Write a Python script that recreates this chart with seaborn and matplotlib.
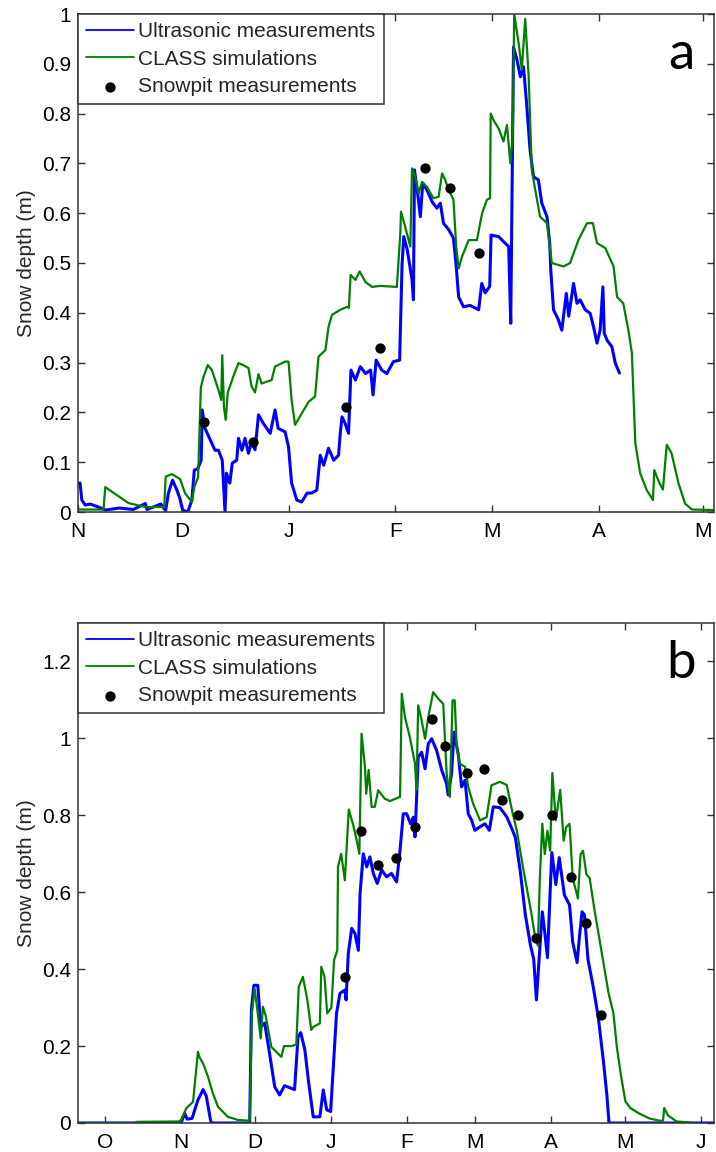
import numpy as np
import matplotlib
matplotlib.use('Agg')
import matplotlib.pyplot as plt
from matplotlib.ticker import FormatStrFormatter
import seaborn as sns

# ---- panel a : season starting 1 Nov (x = days since 1 Nov) ----
a_month_days = [0, 30, 61, 92, 120, 151, 181]
a_month_labels = ['N', 'D', 'J', 'F', 'M', 'A', 'M']

a_ultra_day = [0, 0.6, 1.1, 2.1, 3.5, 5.9, 8, 12, 16, 19.5, 20, 24, 25.4, 26.2, 27.4, 28.6,
               29.5, 30.3, 31.8, 33, 33.7, 34.7, 35.7, 36, 36.8, 38.3, 39.7, 40.7, 41.8, 42.6,
               43, 44, 44.7, 46, 46.5, 47.5, 48.4, 49.4, 50.3, 51.3, 52.3, 53.7, 55.7, 57.1,
               58, 60, 61, 61.9, 63.4, 64.8, 66.4, 67.7, 69.2, 70.2, 71.2, 72.6, 74.1, 75.5,
               76, 76.5, 77.4, 78.4, 79.1, 80.4, 81.8, 83.3, 84.8, 85.5, 86.4, 88, 89.5, 91.4,
               93.2, 93.9, 94.4, 95.4, 96.8, 97.2, 97.5, 98.3, 99.2, 99.9, 101.1, 102.6, 104,
               105, 105.9, 107.4, 108.8, 109.6, 110.3, 111.7, 113.6, 116.1, 117, 118, 119.3,
               119.7, 121.9, 123.3, 124.8, 125.4, 126.2, 127.2, 128.2, 129.1, 130, 131, 132,
               133.4, 134.4, 135.9, 136.7, 137, 137.8, 139.2, 140.2, 141.5, 142.2, 143.6,
               144.6, 145.5, 147, 148.4, 149.4, 150.4, 151.3, 152.1, 152.5, 153.3, 154.7,
               155.7, 156.9]
a_ultra_depth = [0.058, 0.058, 0.024, 0.014, 0.016, 0.01, 0.004, 0.008, 0.005, 0.017, 0.005,
                 0.016, 0.003, 0.038, 0.064, 0.045, 0.028, 0.004, 0.0, 0.024, 0.084, 0.087,
                 0.104, 0.205, 0.168, 0.145, 0.124, 0.124, 0.104, 0.0, 0.078, 0.058, 0.098,
                 0.104, 0.148, 0.124, 0.148, 0.118, 0.141, 0.125, 0.195, 0.178, 0.158, 0.205,
                 0.168, 0.161, 0.131, 0.058, 0.024, 0.02, 0.038, 0.038, 0.044, 0.114, 0.094,
                 0.128, 0.104, 0.114, 0.158, 0.191, 0.178, 0.158, 0.285, 0.265, 0.292, 0.278,
                 0.285, 0.235, 0.305, 0.285, 0.278, 0.302, 0.305, 0.496, 0.553, 0.527, 0.466,
                 0.426, 0.687, 0.647, 0.593, 0.66, 0.647, 0.623, 0.61, 0.62, 0.58, 0.567, 0.55,
                 0.493, 0.432, 0.412, 0.415, 0.406, 0.459, 0.44, 0.453, 0.556, 0.553, 0.543,
                 0.533, 0.379, 0.934, 0.908, 0.874, 0.894, 0.82, 0.727, 0.673, 0.667, 0.62,
                 0.593, 0.54, 0.486, 0.406, 0.386, 0.365, 0.439, 0.393, 0.459, 0.419, 0.426,
                 0.406, 0.399, 0.372, 0.339, 0.365, 0.452, 0.359, 0.345, 0.332, 0.299, 0.279]

a_class_day = [0, 7.4, 7.9, 10, 14.6, 19.5, 25, 25.4, 27.2, 29.6, 31, 33, 33.7, 34.8, 35.6,
               36.3, 37.6, 38.8, 40.7, 41.5, 41.8, 42.3, 42.8, 43.4, 45, 46.5, 47.9, 49.4,
               50.3, 51.3, 52.3, 53.2, 56.1, 57.1, 60, 61, 61.9, 62.9, 65, 66.8, 68.7, 69.7,
               71.7, 72.6, 73.6, 76, 78, 78.5, 79, 80.4, 81.6, 83.3, 85.2, 87.5, 92.4, 93.4,
               93.6, 94.8, 96.3, 96.8, 97.7, 98.7, 99.7, 101.1, 103, 104.5, 105.5, 106.4,
               107.4, 108.8, 109.6, 110.3, 111.3, 113.2, 115.6, 117.1, 118.5, 119.4, 119.6,
               120.4, 121.9, 123.3, 124.3, 125.3, 126, 126.4, 127.7, 128.6, 129.6, 130.6,
               131.5, 132.5, 133.9, 135.9, 137.3, 140.7, 142.6, 145, 147.5, 149.2, 150.4,
               152.8, 155.2, 156.2, 158, 159.5, 160.5, 161.5, 162.9, 164.8, 166.6, 167,
               168.5, 169.5, 170.6, 172, 174, 175.9, 177.9, 184.3]
a_class_depth = [0.005, 0.005, 0.05, 0.04, 0.018, 0.01, 0.01, 0.071, 0.076, 0.066, 0.038,
                 0.02, 0.05, 0.07, 0.25, 0.27, 0.295, 0.285, 0.245, 0.225, 0.315, 0.21, 0.185,
                 0.24, 0.272, 0.299, 0.295, 0.289, 0.252, 0.24, 0.277, 0.258, 0.265, 0.292,
                 0.302, 0.302, 0.225, 0.175, 0.2, 0.221, 0.232, 0.312, 0.325, 0.372, 0.396,
                 0.406, 0.412, 0.41, 0.476, 0.466, 0.483, 0.462, 0.452, 0.454, 0.452, 0.56,
                 0.603, 0.573, 0.533, 0.69, 0.673, 0.64, 0.663, 0.653, 0.63, 0.633, 0.68, 0.667,
                 0.647, 0.627, 0.533, 0.489, 0.513, 0.546, 0.546, 0.6, 0.627, 0.63, 0.8, 0.787,
                 0.77, 0.744, 0.777, 0.7, 0.76, 1.0, 0.941, 0.888, 0.99, 0.874, 0.687, 0.647,
                 0.593, 0.58, 0.5, 0.493, 0.5, 0.546, 0.58, 0.58, 0.54, 0.53, 0.493, 0.432,
                 0.419, 0.365, 0.319, 0.138, 0.078, 0.044, 0.024, 0.084, 0.058, 0.045, 0.135,
                 0.118, 0.058, 0.017, 0.005, 0.004]

a_pit_day = [36.6, 50.6, 77.7, 87.6, 100.6, 107.9, 116.3]
a_pit_depth = [0.18, 0.14, 0.21, 0.33, 0.69, 0.65, 0.52]

# ---- panel b : season starting 1 Oct (x = days since 1 Oct) ----
b_month_days = [0, 31, 61, 92, 123, 151, 182, 212, 243]
b_month_labels = ['O', 'N', 'D', 'J', 'F', 'M', 'A', 'M', 'J']

b_ultra_day = [-11, 31, 32.5, 33.5, 35.5, 37.9, 40, 41.3, 43.1, 43.6, 59, 59.7, 60.7, 62.3,
               63.5, 65.1, 67.1, 69.2, 71.2, 73.2, 77.3, 78.7, 79.8, 81.5, 82.9, 84.9, 87.6,
               89, 90.4, 92, 93.1, 94.4, 95.8, 97.8, 98.3, 99.2, 100.6, 101.9, 103.3, 104,
               105.3, 106.7, 108, 109.4, 111, 112.8, 114.8, 116.8, 118.9, 120.3, 121.6, 123,
               124.6, 125.7, 126.4, 127.7, 129.1, 130.5, 131.8, 133.2, 135.2, 137.3, 139.3,
               139.9, 141.3, 142.3, 144, 145.4, 146.8, 148.1, 149.5, 150.8, 152.9, 154.9,
               156.7, 158.3, 161, 163.8, 165.9, 167.3, 169.3, 171.4, 173.5, 174.8, 175.9,
               176.9, 178.3, 179.3, 180.4, 181.5, 182.2, 183.8, 185.2, 187.3, 189.4, 190.7,
               192.5, 193.5, 194.5, 195.5, 196.9, 199, 201.1, 203.2, 204.6, 205.5, 248.3]
b_ultra_depth = [0, 0, 0.025, 0.01, 0.012, 0.06, 0.087, 0.07, 0.005, 0, 0, 0.294, 0.358,
                 0.358, 0.25, 0.26, 0.181, 0.094, 0.073, 0.097, 0.087, 0.224, 0.235, 0.19,
                 0.112, 0.016, 0.016, 0.086, 0.034, 0.03, 0.146, 0.285, 0.337, 0.346, 0.32,
                 0.441, 0.506, 0.493, 0.449, 0.597, 0.7, 0.666, 0.692, 0.649, 0.623, 0.658,
                 0.64, 0.649, 0.627, 0.709, 0.804, 0.804, 0.778, 0.795, 0.744, 0.951, 0.964,
                 0.921, 0.986, 0.999, 0.969, 0.917, 0.882, 0.853, 0.908, 1.016, 0.96, 0.874,
                 0.891, 0.804, 0.787, 0.761, 0.77, 0.778, 0.761, 0.822, 0.82, 0.796, 0.765,
                 0.743, 0.655, 0.541, 0.461, 0.426, 0.32, 0.417, 0.549, 0.496, 0.43, 0.602,
                 0.703, 0.62, 0.69, 0.593, 0.567, 0.47, 0.417, 0.488, 0.549, 0.541, 0.426,
                 0.356, 0.276, 0.162, 0.074, 0, 0]

b_class_day = [-11, 12, 13, 30, 31.1, 33.1, 35.9, 37.9, 38.6, 40, 42, 44, 46.1, 50.1, 54.2,
               59, 59.9, 61, 62.3, 63.5, 64.4, 65.5, 67.8, 69.8, 71.9, 73, 76, 78, 79, 80.7,
               82.5, 84.1, 85, 87.6, 88.2, 89.5, 90.6, 92.3, 93.4, 94.7, 95, 96.3, 97.8, 99.4,
               101.2, 102.6, 103.7, 104.6, 106, 106.5, 107.5, 108.7, 110, 111.4, 114.1, 116.2,
               120.3, 121, 122.3, 124.3, 126.4, 127, 127.7, 129.1, 130.5, 131.8, 133.8, 135.9,
               137.9, 139.3, 140.6, 141.7, 142.6, 143.4, 144.7, 146.8, 148.1, 150.1, 152.9,
               155.6, 157.6, 161, 163.8, 165.9, 167.9, 170.7, 173.5, 175.5, 176.5, 177.3,
               178.3, 179.3, 180.4, 181.5, 182.4, 183.8, 185.6, 187, 188, 189.4, 190.7, 192.8,
               193.9, 194.9, 196.3, 197.6, 199.7, 202.5, 205.3, 207.3, 208.7, 210.5, 212.2,
               214.2, 217.7, 221.9, 226, 227.5, 228, 229.5, 233, 239]
b_class_depth = [0, 0, 0.003, 0.004, 0.008, 0.038, 0.055, 0.185, 0.17, 0.155, 0.12, 0.077,
                 0.042, 0.016, 0.008, 0.006, 0.285, 0.35, 0.285, 0.22, 0.302, 0.28, 0.198,
                 0.185, 0.172, 0.2, 0.2, 0.204, 0.354, 0.38, 0.32, 0.242, 0.25, 0.259, 0.406,
                 0.38, 0.285, 0.3, 0.423, 0.449, 0.666, 0.7, 0.631, 0.815, 0.775, 0.735, 0.7,
                 1.012, 0.926, 0.856, 0.918, 0.822, 0.822, 0.865, 0.843, 0.837, 0.848, 1.116,
                 1.055, 1.003, 0.934, 0.866, 1.086, 1.047, 0.999, 1.055, 1.12, 1.103, 1.09,
                 0.908, 0.848, 1.099, 1.099, 0.977, 0.934, 0.926, 0.874, 0.83, 0.787, 0.795,
                 0.878, 0.887, 0.879, 0.814, 0.76, 0.655, 0.558, 0.479, 0.461, 0.637, 0.778,
                 0.699, 0.76, 0.708, 0.91, 0.787, 0.866, 0.734, 0.769, 0.778, 0.637, 0.584,
                 0.699, 0.708, 0.646, 0.637, 0.549, 0.444, 0.338, 0.285, 0.197, 0.118, 0.056,
                 0.039, 0.025, 0.012, 0.006, 0.006, 0.039, 0.02, 0.004, 0.001]

b_pit_day = [97.7, 104.2, 111.2, 118.5, 126.4, 133.4, 138.5, 147.7, 154.4, 161.8, 168.5,
             175.7, 182.4, 190, 196, 202.2]
b_pit_depth = [0.38, 0.76, 0.67, 0.69, 0.77, 1.05, 0.98, 0.91, 0.92, 0.84, 0.80, 0.48, 0.80,
               0.64, 0.52, 0.28]

sns.set_theme(style='ticks')
plt.rcParams['font.family'] = ['Liberation Sans', 'DejaVu Sans']

fig = plt.figure(figsize=(7.16, 11.52), dpi=100)
ax1 = fig.add_axes([78 / 716, 640 / 1152, 636 / 716, 498 / 1152])
ax2 = fig.add_axes([78 / 716, 29 / 1152, 636 / 716, 500 / 1152])

panels = [
    (ax1, a_ultra_day, a_ultra_depth, a_class_day, a_class_depth, a_pit_day, a_pit_depth,
     a_month_days, a_month_labels, (0, 184.3), (0, 1), np.arange(0, 1.01, 0.1), 'a'),
    (ax2, b_ultra_day, b_ultra_depth, b_class_day, b_class_depth, b_pit_day, b_pit_depth,
     b_month_days, b_month_labels, (-11, 248.3), (0, 1.3), np.arange(0, 1.21, 0.2), 'b'),
]

for (ax, ud, uv, cd, cv, pd_, pv, mdays, mlabels, xlim, ylim, yticks, letter) in panels:
    sns.lineplot(x=ud, y=uv, ax=ax, color='#0000ff', lw=2.2, estimator=None, sort=False,
                 label='Ultrasonic measurements')
    sns.lineplot(x=cd, y=cv, ax=ax, color='#008000', lw=1.6, estimator=None, sort=False,
                 label='CLASS simulations')
    sns.scatterplot(x=pd_, y=pv, ax=ax, color='black', s=55, edgecolor='black', linewidth=0,
                    zorder=5, label='Snowpit measurements')
    ax.set_xlim(*xlim)
    ax.set_ylim(*ylim)
    ax.set_xticks(mdays)
    ax.set_xticklabels(mlabels)
    ax.set_yticks(yticks)
    ax.yaxis.set_major_formatter(FormatStrFormatter('%g'))
    ax.tick_params(direction='in', top=True, right=True, length=5, width=1,
                   color='0.2', labelsize=15, labelcolor='black')
    ax.tick_params(axis='x', pad=7)
    ax.tick_params(axis='y', pad=5)
    for sp in ax.spines.values():
        sp.set_visible(True)
        sp.set_color('0.2')
        sp.set_linewidth(1.1)
    ax.set_xlabel('')
    ax.set_ylabel('Snow depth (m)', fontsize=15, labelpad=4)
    leg = ax.legend(loc='upper left', bbox_to_anchor=(0, 1), borderaxespad=0, fontsize=15,
                    frameon=True, fancybox=False, framealpha=1, edgecolor='0.2',
                    handlelength=2.3, handletextpad=0.2, borderpad=0.4, labelspacing=0.4)
    leg.get_frame().set_linewidth(1.1)
    for h in leg.get_lines():
        h.set_linewidth(1.3)
    ax.text(0.948, 0.918, letter, transform=ax.transAxes, fontsize=38, family='Lato',
            ha='center', va='center', color='black')

fig.savefig('out.png', dpi=100)
